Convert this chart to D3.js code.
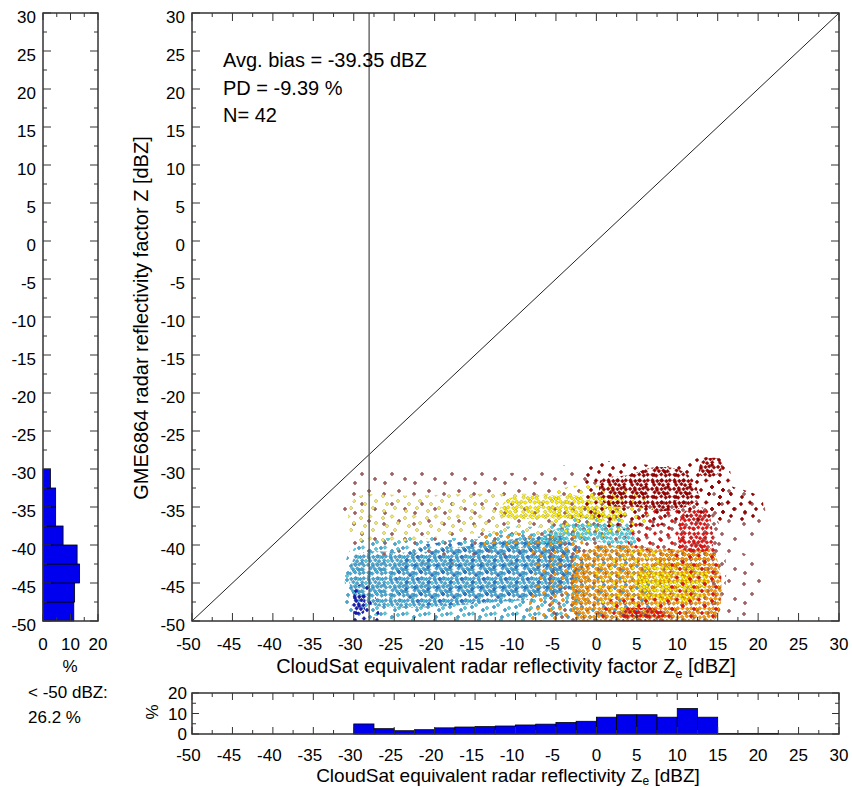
<!DOCTYPE html>
<html>
<head>
<meta charset="utf-8">
<script src="https://cdn.jsdelivr.net/npm/d3@7"></script>
<style>
body{margin:0;background:#fff}
text{font-family:"Liberation Sans",Arial,sans-serif;font-size:17px;fill:#000}
.big{font-size:20px}
</style>
</head>
<body>
<script>
// ---- data ----
var axisTicks = [-50,-45,-40,-35,-30,-25,-20,-15,-10,-5,0,5,10,15,20,25,30];
var pctTicks = [0,10,20];

// left histogram (model Z), bins of 2.5 dBZ, lower edges
var zBins = [-50,-47.5,-45,-42.5,-40,-37.5,-35,-32.5];
var zPct  = [11.2,11.5,13.3,12.4,7.3,4.6,4.6,2.7];

// bottom histogram (CloudSat Ze), bins of 2.5 dBZ, lower edges
var zeBins = [-30,-27.5,-25,-22.5,-20,-17.5,-15,-12.5,-10,-7.5,-5,-2.5,0,2.5,5,7.5,10,12.5,15,17.5,20];
var zePct  = [4.9,2.6,1.6,2.1,3.0,3.4,3.6,3.9,4.4,4.8,5.6,6.2,8.2,9.4,9.4,8.2,12.4,8.2,0.3,0.3,0.3];

var vLineX = -28.1;
var statLines = ['Avg. bias = -39.35 dBZ','PD = -9.39 %','N= 42'];
var belowText = ['< -50 dBZ:','26.2 %'];

var blobs = [
  ['mauve','x',[[-30,-40],[-30,-31],[-10,-30.5],[0,-30],[0,-40]]],
  ['mauve','s',[[-5,-50],[-5,-36],[3,-35],[14,-35],[14.5,-50]]],
  ['mauve','x',[[14.5,-49],[14.5,-33],[18,-32.5],[20.5,-34],[20.5,-38.5],[17,-40],[20.5,-43],[19,-49]]],
  ['cyan','s',[[-30,-50],[-30,-40],[-20,-39.5],[-8,-38.5],[-2,-40],[5,-41],[6,-50]]],
  ['turq','s',[[-30,-48],[-30,-40.5],[-10,-39.5],[-3,-40],[-2,-48]]],
  ['cyan','d',[[-29.8,-47],[-29.8,-41.5],[-22,-41],[-15,-40],[-8,-39],[-4,-39.5],[-3,-43],[-4,-46],[-12,-47.5]]],
  ['blue','s',[[-24,-47],[-24,-41],[-12,-39.5],[-3,-39],[-2,-45],[-10,-47]]],
  ['navy','s',[[-30,-50],[-30,-45.5],[-28,-45.5],[-27,-50]]],
  ['navy','d',[[-30,-49],[-30,-46.5],[-28.8,-46.5],[-28.8,-49]]],
  ['turq','d',[[-7,-40],[-6,-38.5],[-3,-37.2],[1,-37],[4,-38],[5,-39.5],[3,-40.5],[0,-39.5],[-3,-39.5]]],
  ['turq','s',[[-14,-40],[-13,-38],[-6,-37.5],[-3,-36.5],[3,-36.5],[5,-38],[-6,-40]]],
  ['pale','s',[[-30,-39],[-30,-34],[-22,-33.5],[-12,-33.3],[-4,-34],[-4,-38],[-15,-38.5]]],
  ['yellow','d',[[-12,-36],[-11,-34],[-6,-33.5],[0,-33.6],[3,-34],[3,-36.5],[-3,-36.5]]],
  ['yellow','s',[[-5,-38],[-5,-33],[5,-33],[7,-35],[5,-38]]],
  ['orange','s',[[-14,-40],[-14,-38.5],[-6,-38.8],[-2,-39],[-2,-50],[-8,-50],[-8,-41]]],
  ['orange','d',[[-2,-50],[-3,-44],[-1,-40.5],[3,-40],[8,-40.5],[12,-40.7],[14.5,-41],[14.5,-50]]],
  ['yellow','d',[[6,-47],[5,-44],[7,-42.5],[11,-42.3],[13.5,-43],[13,-47],[9,-47.5]]],
  ['yellow','s',[[1,-48],[0,-43],[3,-41],[8,-41],[8,-48]]],
  ['orange','d',[[7,-42.5],[8,-41.2],[11,-40.8],[14,-41],[14,-42.5]]],
  ['red','s',[[4,-40],[5,-36],[9,-35],[11,-36],[11,-40]]],
  ['red','d',[[10.5,-40.5],[10.2,-37.5],[11,-35.5],[13.5,-35.2],[14.2,-37],[14.2,-40.5]]],
  ['red','s',[[0,-50],[1,-47.5],[5,-47],[10,-47.5],[10,-50]]],
  ['red','d',[[3,-50],[3.5,-48.6],[6,-48.3],[8.5,-48.8],[8.5,-50]]],
  ['red','s',[[10,-50],[10,-40],[14.5,-40],[14.5,-50]]],
  ['dred','s',[[-1,-36],[-1,-29.5],[4,-29.2],[9,-29.6],[13,-28.5],[16,-28.8],[16,-36],[10,-37],[3,-38]]],
  ['dred','d',[[1,-34.5],[0.5,-31.5],[4,-30.8],[7,-29.8],[10,-30],[12,-31.5],[12.5,-34],[9,-35.5],[5,-35]]],
  ['dred','d',[[12.8,-30.8],[13,-29],[15,-28.6],[15.6,-29.8],[14.5,-31]]],
  ['dred','s',[[14,-36],[14,-31],[16,-32],[20.5,-34],[20,-36.5],[16,-37]]]
];

// ---- styles ----
var colors = {navy:'#1a1ab8',blue:'#2a78d2',cyan:'#44a8dc',turq:'#4cd4e6',pale:'#f2ea70',
  yellow:'#fff000',orange:'#ff9800',red:'#ee1010',dred:'#a00000',mauve:'#a86060'};
var marks = {
  d:{size:22, pts:[[2.5,2.2],[7.3,3],[11.2,2.4],[16.4,3.1],[19.8,2.3],
    [4.2,6.8],[9.4,6.1],[13.1,7.2],[18.2,6.4],
    [2.1,10.9],[6.8,10.2],[11.5,11.1],[15.2,10.3],[19.9,11.4],
    [4.6,14.3],[8.9,15.1],[13.4,14.6],[17.6,15.2],
    [2.4,18.8],[6.2,19.6],[11.2,18.4],[15.8,19.5],[19.6,18.7]]},
  s:{size:22, pts:[[3,4],[12,2.5],[18,9],[7,12],[15,16],[4,19]]},
  x:{size:30, pts:[[5,7],[20,4],[13,17],[26,22],[6,26]]}
};
var frameColor = '#333';

var W = 852, H = 787;
var svg = d3.select('body').append('svg').attr('width',W).attr('height',H);
svg.append('rect').attr('width',W).attr('height',H).attr('fill','#fff');

var x = d3.scaleLinear().domain([-50,30]).range([192,839]);
var y = d3.scaleLinear().domain([-50,30]).range([621,13]);
var xh = d3.scaleLinear().domain([0,20]).range([43,98]);
var yh = d3.scaleLinear().domain([0,20]).range([734,693]);

var minors = axisTicks.slice(0,-1).map(function(d){return d+2.5;});

// patterns for the scatter
var defs = svg.append('defs');
defs.append('clipPath').attr('id','plotclip').append('rect')
  .attr('x',x(-50)).attr('y',y(30)).attr('width',x(30)-x(-50)).attr('height',y(-50)-y(30));
Object.keys(colors).forEach(function(k,i){
  ['d','s','x'].forEach(function(dn){
    var m = marks[dn];
    var p = defs.append('pattern').attr('id','p-'+k+'-'+dn)
      .attr('patternUnits','userSpaceOnUse')
      .attr('width',m.size).attr('height',m.size)
      .attr('patternTransform','translate('+((i*7)%22)+','+((i*13)%22)+')');
    p.selectAll('path').data(m.pts).enter().append('path')
      .attr('d',function(q){return 'M'+q[0]+','+(q[1]-1.9)+'l1.9,1.9l-1.9,1.9l-1.9,-1.9z';})
      .attr('fill',colors[k])
      .attr('stroke',d3.color(colors[k]).darker(1.2))
      .attr('stroke-width',0.5);
  });
});

// helper: inward ticks on a box
function boxTicks(g, sx, sy, xv, xlen, yv, ylen){
  var x0 = sx.range()[0], x1 = sx.range()[1], y0 = sy.range()[0], y1 = sy.range()[1];
  xv.forEach(function(v){
    g.append('line').attr('x1',sx(v)).attr('x2',sx(v)).attr('y1',y0).attr('y2',y0-xlen);
    g.append('line').attr('x1',sx(v)).attr('x2',sx(v)).attr('y1',y1).attr('y2',y1+xlen);
  });
  yv.forEach(function(v){
    g.append('line').attr('y1',sy(v)).attr('y2',sy(v)).attr('x1',x0).attr('x2',x0+ylen);
    g.append('line').attr('y1',sy(v)).attr('y2',sy(v)).attr('x1',x1).attr('x2',x1-ylen);
  });
}

// ---- main scatter panel ----
var main = svg.append('g');
var outline = d3.line().x(function(p){return x(p[0]);}).y(function(p){return y(p[1]);})
  .curve(d3.curveCatmullRomClosed.alpha(0.5));
main.append('g').attr('clip-path','url(#plotclip)')
  .selectAll('path.blob').data(blobs).enter().append('path')
  .attr('class','blob')
  .attr('d',function(d){return outline(d[2]);})
  .attr('fill',function(d){return 'url(#p-'+d[0]+'-'+d[1]+')';});

main.append('line').attr('x1',x(-50)).attr('y1',y(-50)).attr('x2',x(30)).attr('y2',y(30))
  .attr('stroke','#222').attr('stroke-width',1);
main.append('line').attr('x1',x(vLineX)).attr('x2',x(vLineX)).attr('y1',y(-50)).attr('y2',y(30))
  .attr('stroke','#555').attr('stroke-width',1.3);

var tk = main.append('g').attr('stroke',frameColor).attr('stroke-width',1);
boxTicks(tk, x, y, axisTicks, 8, axisTicks, 8);
boxTicks(tk, x, y, minors, 4, minors, 4);
main.append('rect').attr('x',x(-50)).attr('y',y(30)).attr('width',x(30)-x(-50)).attr('height',y(-50)-y(30))
  .attr('fill','none').attr('stroke',frameColor).attr('stroke-width',1.5);

main.selectAll('text.xl').data(axisTicks).enter().append('text')
  .attr('x',function(d){return x(d)-(d<0?3.5:0);}).attr('y',650)
  .attr('text-anchor','middle').text(function(d){return d;});
main.selectAll('text.yl').data(axisTicks).enter().append('text')
  .attr('x',185).attr('y',function(d){return y(d)+9.5;})
  .attr('text-anchor','end').text(function(d){return d;});

var xt = main.append('text').attr('class','big').attr('x',506).attr('y',673).attr('text-anchor','middle');
xt.append('tspan').text('CloudSat equivalent radar reflectivity factor Z');
xt.append('tspan').attr('dy',5).style('font-size','13px').text('e');
xt.append('tspan').attr('dy',-5).text(' [dBZ]');

main.append('text').attr('class','big').attr('transform','translate(148,318) rotate(-90)').attr('text-anchor','middle')
  .text('GME6864 radar reflectivity factor Z [dBZ]');

main.selectAll('text.st').data(statLines).enter().append('text').attr('class','big')
  .attr('x',223).attr('y',function(d,i){return 67+i*27.5;}).text(function(d){return d;});

// ---- left histogram ----
var left = svg.append('g');
left.selectAll('rect').data(zBins).enter().append('rect')
  .attr('x',xh(0)).attr('y',function(d){return y(d+2.5);})
  .attr('width',function(d,i){return xh(zPct[i])-xh(0);})
  .attr('height',function(d){return y(d)-y(d+2.5);})
  .attr('fill','#0000ee').attr('stroke','#000').attr('stroke-width',0.8);
var lt = left.append('g').attr('stroke',frameColor).attr('stroke-width',1);
boxTicks(lt, xh, y, [0,10,20], 7, axisTicks, 8);
boxTicks(lt, xh, y, [5,15], 4, minors, 4);
left.append('rect').attr('x',xh(0)).attr('y',y(30)).attr('width',xh(20)-xh(0)).attr('height',y(-50)-y(30))
  .attr('fill','none').attr('stroke',frameColor).attr('stroke-width',1.5);
left.selectAll('text.yl').data(axisTicks).enter().append('text')
  .attr('x',36).attr('y',function(d){return y(d)+9.5;})
  .attr('text-anchor','end').text(function(d){return d;});
left.selectAll('text.xl').data(pctTicks).enter().append('text')
  .attr('x',function(d){return xh(d);}).attr('y',650)
  .attr('text-anchor','middle').text(function(d){return d;});
left.append('text').attr('x',70).attr('y',672).attr('text-anchor','middle').text('%');
left.selectAll('text.bt').data(belowText).enter().append('text')
  .attr('x',28).attr('y',function(d,i){return 698+i*25;}).text(function(d){return d;});

// ---- bottom histogram ----
var bot = svg.append('g');
bot.selectAll('rect').data(zeBins).enter().append('rect')
  .attr('x',function(d){return x(d);})
  .attr('y',function(d,i){return yh(zePct[i]);})
  .attr('width',function(d){return x(d+2.5)-x(d);})
  .attr('height',function(d,i){return yh(0)-yh(zePct[i]);})
  .attr('fill','#0000ee').attr('stroke','#000').attr('stroke-width',0.8);
var bt = bot.append('g').attr('stroke',frameColor).attr('stroke-width',1);
boxTicks(bt, x, yh, axisTicks, 7, [0,10,20], 7);
boxTicks(bt, x, yh, minors, 4, [5,15], 4);
bot.append('rect').attr('x',x(-50)).attr('y',yh(20)).attr('width',x(30)-x(-50)).attr('height',yh(0)-yh(20))
  .attr('fill','none').attr('stroke',frameColor).attr('stroke-width',1.5);
bot.selectAll('text.xl').data(axisTicks).enter().append('text')
  .attr('x',function(d){return x(d)-(d<0?3.5:0);}).attr('y',761)
  .attr('text-anchor','middle').text(function(d){return d;});
bot.selectAll('text.yl').data(pctTicks).enter().append('text')
  .attr('x',187).attr('y',function(d){return yh(d)+6;})
  .attr('text-anchor','end').text(function(d){return d;});
bot.append('text').attr('transform','translate(158,712) rotate(-90)').attr('text-anchor','middle').text('%');
var bxt = bot.append('text').attr('x',508).attr('y',782).attr('text-anchor','middle').style('font-size','19px');
bxt.append('tspan').text('CloudSat equivalent radar reflectivity Z');
bxt.append('tspan').attr('dy',3).style('font-size','12px').text('e');
bxt.append('tspan').attr('dy',-3).text(' [dBZ]');
</script>
</body>
</html>
